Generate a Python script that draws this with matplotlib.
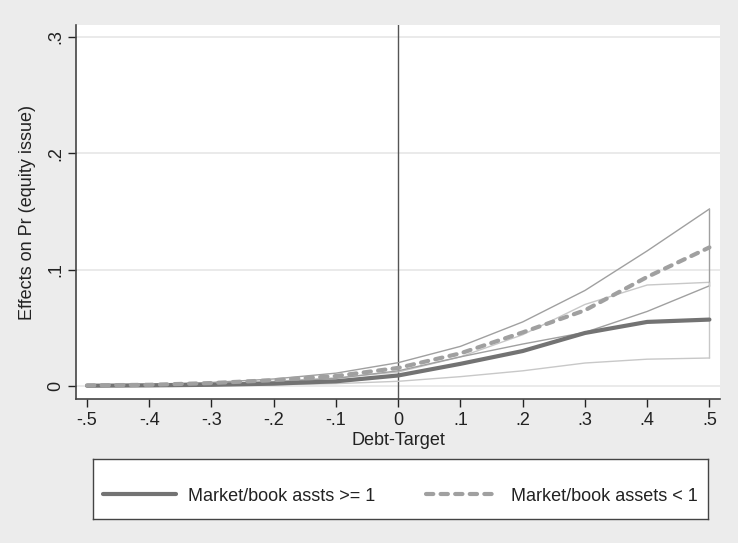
import matplotlib
matplotlib.use("Agg")
import matplotlib.pyplot as plt
from matplotlib.lines import Line2D

plt.rcParams['font.family'] = ['Liberation Sans', 'DejaVu Sans']

# data
debt_target = [-0.5, -0.4, -0.3, -0.2, -0.1, 0.0, 0.1, 0.2, 0.3, 0.4, 0.5]

# Market/book assets >= 1
high_mb = [0.0002, 0.0005, 0.001, 0.002, 0.004, 0.009, 0.019, 0.030, 0.0455, 0.055, 0.057]
high_mb_hi = [0.0004, 0.0009, 0.0018, 0.0035, 0.0065, 0.013, 0.025, 0.036, 0.046, 0.064, 0.086]
high_mb_lo = [0.0001, 0.0002, 0.0005, 0.001, 0.002, 0.004, 0.008, 0.013, 0.0197, 0.023, 0.024]

# Market/book assets < 1
low_mb = [0.0005, 0.001, 0.0025, 0.005, 0.0085, 0.0155, 0.028, 0.046, 0.065, 0.0936, 0.119]
low_mb_hi = [0.0006, 0.0015, 0.003, 0.006, 0.011, 0.020, 0.034, 0.055, 0.082, 0.116, 0.152]
low_mb_lo = [0.0004, 0.0008, 0.002, 0.004, 0.007, 0.012, 0.025, 0.044, 0.070, 0.0867, 0.089]

xticks = [-0.5, -0.4, -0.3, -0.2, -0.1, 0.0, 0.1, 0.2, 0.3, 0.4, 0.5]
xtick_labels = ['-.5', '-.4', '-.3', '-.2', '-.1', '0', '.1', '.2', '.3', '.4', '.5']
yticks = [0.0, 0.1, 0.2, 0.3]
ytick_labels = ['0', '.1', '.2', '.3']

bg = '#ececec'
dark = '#737373'
mid = '#a0a0a0'
light = '#c8c8c8'
dash = (0, (1.75, 1.75))

fig = plt.figure(figsize=(7.38, 5.43), dpi=100, facecolor=bg)
ax = fig.add_axes([76 / 738, 144 / 543, 644 / 738, 374 / 543])
ax.set_facecolor('white')

for y in yticks:
    ax.axhline(y, color='#e6e6e6', lw=1.2, zorder=0)
ax.axvline(0, color='#555555', lw=1.0, zorder=1)

# confidence bounds
ax.plot(debt_target, low_mb_hi, color=mid, lw=1.0, zorder=2)
ax.plot(debt_target, low_mb_lo, color=light, lw=1.0, zorder=2)
ax.plot(debt_target, high_mb_hi, color=mid, lw=1.0, zorder=2)
ax.plot(debt_target, high_mb_lo, color=light, lw=1.0, zorder=2)
ax.vlines(debt_target[-1], high_mb_hi[-1], low_mb_hi[-1], color=mid, lw=1.0, zorder=2)
ax.vlines(debt_target[-1], high_mb_lo[-1], low_mb_lo[-1], color=light, lw=1.0, zorder=2)

# point estimates
ax.plot(debt_target, high_mb, color=dark, lw=3.0, solid_capstyle='round', zorder=4)
ax.plot(debt_target, low_mb, color=mid, lw=3.0, ls=dash,
        dash_capstyle='round', zorder=5)

ax.set_xlim(-0.5177, 0.517)
ax.set_ylim(-0.0112, 0.310)
ax.set_xticks(xticks)
ax.set_xticklabels(xtick_labels)
ax.set_yticks(yticks)
ax.set_yticklabels(ytick_labels, rotation=90, va='center')
ax.tick_params(colors='#222222', labelsize=13, length=5.5, width=1, direction='out')
ax.tick_params(axis='x', pad=4)
ax.tick_params(axis='y', pad=3)
for s in ['top', 'right']:
    ax.spines[s].set_visible(False)
for s in ['left', 'bottom']:
    ax.spines[s].set_color('#444444')
    ax.spines[s].set_linewidth(1.2)

ax.set_xlabel('Debt-Target', fontsize=13, color='#222222', labelpad=2)
ax.set_ylabel('Effects on Pr (equity issue)', fontsize=13, color='#222222', labelpad=8)

# legend box
lax = fig.add_axes([93 / 738, 24 / 543, 615 / 738, 60 / 543])
lax.set_facecolor('white')
lax.set_xticks([])
lax.set_yticks([])
for s in lax.spines.values():
    s.set_color('#444444')
    s.set_linewidth(1.0)
handles = [
    Line2D([], [], color=dark, lw=3.0, solid_capstyle='round'),
    Line2D([], [], color=mid, lw=3.0, ls=dash, dash_capstyle='round'),
]
lax.legend(handles, ['Market/book assts >= 1', 'Market/book assets < 1'],
           loc='center', bbox_to_anchor=(0.5, 0.38), ncol=2, frameon=False,
           fontsize=13, handlelength=4.0, columnspacing=2.8, handletextpad=0.7,
           labelcolor='#222222')

fig.savefig('out.png', dpi=100, facecolor=bg)
